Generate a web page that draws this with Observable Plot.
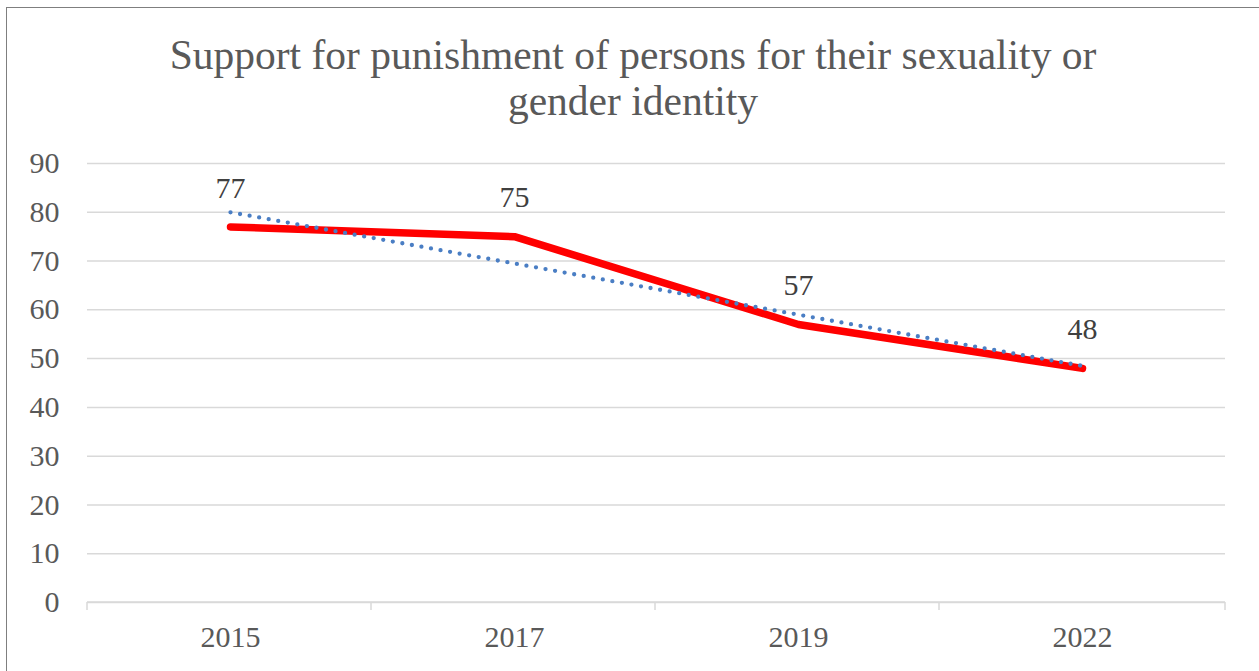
<!DOCTYPE html>
<html><head><meta charset="utf-8">
<script src="https://cdn.jsdelivr.net/npm/d3@7"></script>
<script src="https://cdn.jsdelivr.net/npm/@observablehq/plot@0.6"></script>
<style>
html,body{margin:0;padding:0;background:#fff;width:1259px;height:671px;overflow:hidden;}
#frame{position:absolute;left:6px;top:7px;width:1300px;height:700px;border:1.5px solid #7f7f7f;box-sizing:border-box;}
#title{position:absolute;left:0;top:32px;width:1266px;text-align:center;font-family:"Liberation Serif",serif;font-size:41.5px;color:#595959;line-height:46px;}
#chart{position:absolute;left:0;top:140px;}
</style></head>
<body>
<div id="frame"></div>
<div id="title">Support for punishment of persons for their sexuality or<br>gender identity</div>
<div id="chart"></div>
<script>
const years = ["2015", "2017", "2019", "2022"];
const values = [77, 75, 57, 48];
const trend = [80, 69.5, 59, 48.5];
const yTicks = [0, 10, 20, 30, 40, 50, 60, 70, 80, 90];

const data = years.map((y, i) => ({year: y, value: values[i], trend: trend[i]}));

const plot = Plot.plot({
  width: 1259,
  height: 531,
  marginLeft: 87,
  marginRight: 34,
  marginTop: 23,
  marginBottom: 69,
  style: {fontFamily: "'Liberation Serif', serif", fontSize: "30px", color: "#595959", background: "transparent"},
  x: {type: "band", domain: years, padding: 0, label: null},
  y: {domain: [0, 90], label: null},
  marks: [
    Plot.gridY(yTicks, {stroke: "#d9d9d9", strokeOpacity: 1, strokeWidth: 1.5}),
    Plot.axisY(yTicks, {tickSize: 0, tickPadding: 28, fontSize: 30, fill: "#595959", label: null}),
    Plot.axisX({tickSize: 0, tickPadding: 23, fontSize: 30, fill: "#595959", label: null}),
    Plot.line(data, {x: "year", y: "value", stroke: "#ff0000", strokeWidth: 7.5, strokeLinecap: "round", strokeLinejoin: "round"}),
    Plot.line(data, {x: "year", y: "trend", stroke: "#4a7ec4", strokeWidth: 4.3, strokeLinecap: "round", strokeDasharray: "0 9.7"}),
    Plot.text(data, {x: "year", y: "value", text: d => String(d.value), dy: -39, fontSize: 30, fill: "#404040"})
  ]
});
document.getElementById("chart").appendChild(plot);

// x-axis baseline and band-boundary tick marks from the Plot scales
const xs = plot.scale("x");
const ys = plot.scale("y");
const y0 = ys.apply(0);
const bounds = years.map((d, i) => xs.range[0] + i * xs.step).concat([xs.range[1]]);
const svg = d3.select(plot);
svg.append("line")
  .attr("x1", xs.range[0]).attr("x2", xs.range[1]).attr("y1", y0).attr("y2", y0)
  .attr("stroke", "#d9d9d9").attr("stroke-width", 1.5);
svg.selectAll("line.btick").data(bounds).enter().append("line")
  .attr("class", "btick")
  .attr("x1", d => d).attr("x2", d => d).attr("y1", y0).attr("y2", y0 + 8)
  .attr("stroke", "#d9d9d9").attr("stroke-width", 1.5);
</script>
</body></html>
